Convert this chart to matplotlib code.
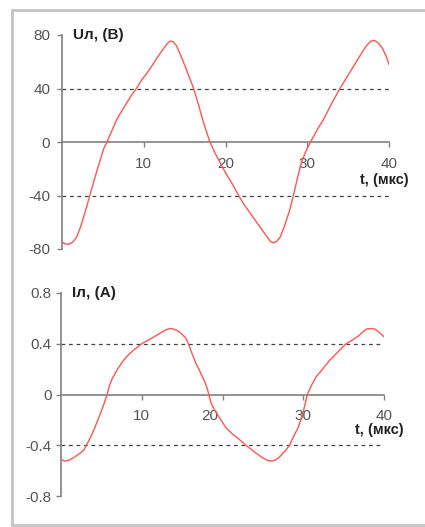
import matplotlib
matplotlib.use("Agg")
import matplotlib.pyplot as plt
from matplotlib.patches import Rectangle
import matplotlib.transforms as mtransforms

plt.rcParams['font.family'] = ['Liberation Sans', 'DejaVu Sans']

# Voltage series
t_u = [0, 0.3, 0.8, 1.3, 1.8, 2.3, 2.8, 3.4, 4.0, 4.6, 5.1, 5.5, 6.0, 6.7, 7.3, 7.9,
       8.5, 9.1, 9.7, 10.4, 11.0, 11.6, 12.2, 12.8, 13.2, 13.6, 14.0, 14.5, 15.1, 15.6,
       16.1, 16.6, 17.1, 17.6, 18.1, 18.7, 19.3, 20.0, 20.8, 21.6, 22.3, 23.0, 23.8,
       24.5, 25.1, 25.5, 25.9, 26.3, 26.7, 27.2, 27.8, 28.3, 28.8, 29.3, 29.9, 30.4,
       31.2, 32.0, 33.0, 34.0, 35.0, 36.1, 36.7, 37.3, 37.8, 38.2, 38.7, 39.2, 39.6, 40.0]
u_vals = [-74.6, -76, -76.5, -75, -71, -63, -53, -40, -27, -15, -5, 0, 7, 17, 23, 29,
          35, 40, 46, 51.5, 57, 62.6, 68, 73, 75.5, 75, 72, 65, 56, 48,
          40, 30, 19, 9, 0, -8, -15, -23, -31, -40, -47, -53, -60,
          -66, -71, -74.5, -75.5, -74, -71, -63, -52, -40, -27, -15, -6, 0,
          9, 17, 29, 40, 50, 61, 67, 72.5, 75.5, 76, 74, 70, 65, 58]

# Current series
t_i = [0, 0.4, 0.9, 1.5, 2.2, 2.8, 3.4, 4.0, 4.5, 5.0, 5.4, 5.7, 6.0, 6.3, 7.0, 7.7,
       8.3, 8.9, 9.5, 10.0, 10.7, 11.4, 12.2, 13.0, 13.5, 14.0, 14.5, 15.0, 15.5, 15.9,
       16.3, 16.75, 17.3, 17.8, 18.1, 18.3, 18.6, 19.0, 19.6, 20.4, 21.2, 22.0, 22.9,
       23.9, 25.0, 25.6, 26.1, 26.6, 27.1, 27.7, 28.3, 28.8, 29.3, 29.7, 30.1, 30.5,
       31.0, 31.6, 32.4, 33.2, 34.2, 35.3, 36.1, 36.9, 37.5, 37.9, 38.4, 38.9, 39.4, 40.0]
i_vals = [-0.51, -0.525, -0.52, -0.5, -0.47, -0.44, -0.37, -0.29, -0.21, -0.13, -0.06,
          0, 0.07, 0.12, 0.2, 0.265, 0.31, 0.345, 0.375, 0.4, 0.425, 0.45, 0.48, 0.51,
          0.52, 0.515, 0.5, 0.475, 0.44, 0.38, 0.31, 0.24, 0.17, 0.1, 0.05, 0, -0.07,
          -0.12, -0.18, -0.26, -0.31, -0.35, -0.4, -0.45, -0.5, -0.52, -0.525, -0.515,
          -0.49, -0.45, -0.4, -0.33, -0.27, -0.2, -0.11, 0, 0.07, 0.14, 0.2, 0.265, 0.33,
          0.4, 0.43, 0.465, 0.5, 0.517, 0.52, 0.515, 0.49, 0.455]

x_ticks = [10, 20, 30, 40]
u_ticks = [-80, -40, 0, 40, 80]
u_ticklabels = ['-80', '-40', '0', '40', '80']
u_grid = [-40, 40]
i_ticks = [-0.8, -0.4, 0, 0.4, 0.8]
i_ticklabels = ['-0.8', '-0.4', '0', '0.4', '0.8']
i_grid = [-0.4, 0.4]

W, H = 425, 527
fig = plt.figure(figsize=(W / 100, H / 100), dpi=100)
fig.patch.set_facecolor('white')

# panel frame
frame = Rectangle((12 / W, 2 / H), 1.0, 515 / H, transform=fig.transFigure,
                  facecolor='white', edgecolor='#c4c4c4', linewidth=2.0, zorder=-10)
fig.patches.append(frame)

axis_col = '#808080'
tick_col = '#555555'
curve_col = '#ff5555'


def style(ax, yticks, ylabels, grid_vals, ylim, ylabel, xlab_y, ypad):
    ax.set_xlim(0, 40)
    ax.set_ylim(*ylim)
    for s in ['top', 'right']:
        ax.spines[s].set_visible(False)
    ax.spines['bottom'].set_position(('data', 0))
    ax.spines['bottom'].set_color(axis_col)
    ax.spines['left'].set_color(axis_col)
    ax.spines['bottom'].set_linewidth(1.2)
    ax.spines['left'].set_linewidth(1.2)
    ax.set_yticks(yticks)
    ax.set_yticklabels(ylabels)
    ax.set_xticks(x_ticks)
    ax.tick_params(axis='y', direction='out', length=3.5, width=1, color=axis_col,
                   labelcolor=tick_col, labelsize=11, pad=ypad)
    ax.tick_params(axis='x', direction='out', length=3.5, width=1, color=axis_col,
                   labelcolor=tick_col, labelsize=11, pad=7)
    for g in grid_vals:
        ax.axhline(g, color='#404040', lw=0.9, ls=(0, (3, 3)), zorder=1)
    ax.text(0.035, 1.0, ylabel, transform=ax.transAxes, fontsize=11,
            fontweight='bold', color='#222222', ha='left', va='center')
    ax.text(1.06, xlab_y, 't, (мкс)', transform=ax.transAxes,
            fontsize=10.5, fontweight='bold', color='#222222', ha='right', va='center')
    ax.patch.set_alpha(0)


ax1 = fig.add_axes([62 / W, (H - 249) / H, (389 - 62) / W, (249 - 35) / H])
ax1.plot(t_u, u_vals, color=curve_col, lw=1.0, zorder=3)
style(ax1, u_ticks, u_ticklabels, u_grid, (-80, 80), 'Uл, (В)',
      (249 - 180) / (249 - 35), 5)

ax2 = fig.add_axes([61 / W, (H - 496) / H, (384 - 61) / W, (496 - 293) / H])
ax2.plot(t_i, i_vals, color=curve_col, lw=1.0, zorder=3)
style(ax2, i_ticks, i_ticklabels, i_grid, (-0.8, 0.8), 'Iл, (А)',
      (496 - 430) / (496 - 293), 3)

# the "20" label of the lower chart sits slightly left of its tick
lbl = ax2.get_xticklabels()[1]
lbl.set_transform(lbl.get_transform() +
                  mtransforms.ScaledTranslation(-13 / 100, 0, fig.dpi_scale_trans))

fig.savefig('out.png', dpi=100)
